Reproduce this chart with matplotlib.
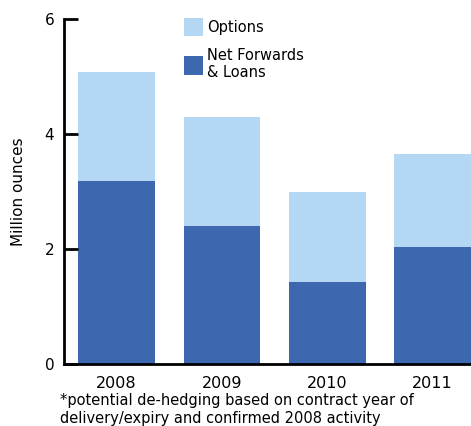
import numpy as np
from matplotlib import pyplot as plt

years = ['2008', '2009', '2010', '2011']
forwards = np.array([3.18, 2.40, 1.43, 2.03])
options = np.array([1.90, 1.90, 1.56, 1.62])

light = '#b4d7f3'
dark = '#3d67ae'

fig = plt.figure(figsize=(4.71, 4.26), dpi=100)
ax = fig.add_axes([64 / 471, 62 / 426, 407 / 471, 345 / 426])

x = np.arange(len(years))
b1 = ax.bar(x, forwards, width=0.73, color=dark, label='Net Forwards\n& Loans')
b2 = ax.bar(x, options, width=0.73, bottom=forwards, color=light, label='Options')

ax.set_xlim(-0.5, 3.365)
ax.set_ylim(0, 6)
ax.set_yticks([0, 2, 4, 6])
ax.set_xticks(x)
ax.set_xticklabels(years)
ax.tick_params(axis='y', direction='in', length=10, width=2, labelsize=11, pad=7)
ax.tick_params(axis='x', length=0, labelsize=11.5, pad=9)
for s in ['top', 'right']:
    ax.spines[s].set_visible(False)
ax.spines['left'].set_linewidth(2)
ax.spines['bottom'].set_linewidth(2)
ax.set_ylabel('Million ounces', fontsize=11, labelpad=13)

ax.legend([b2, b1], ['Options', 'Net Forwards\n& Loans'], loc='upper left',
          bbox_to_anchor=(0.262, 1.042), frameon=False, fontsize=10.5,
          handlelength=1.3, handleheight=1.6, handletextpad=0.3,
          labelspacing=0.8)

fig.text(60 / 471, 17 / 426, '*potential de-hedging based on contract year of\n'
         'delivery/expiry and confirmed 2008 activity',
         fontsize=10.5, va='center', ha='left', linespacing=1.25)

plt.savefig('out.png', dpi=100)
